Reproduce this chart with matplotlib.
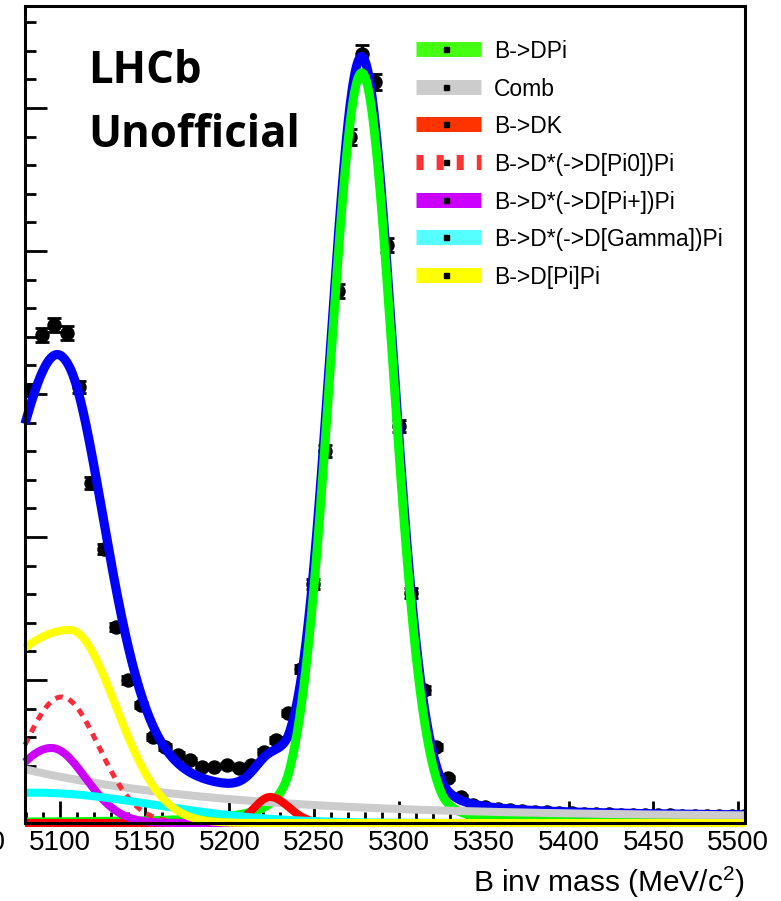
import numpy as np
import matplotlib
matplotlib.use("Agg")
import matplotlib.pyplot as plt
from matplotlib.lines import Line2D

plt.rcParams['font.family'] = ['Liberation Sans', 'DejaVu Sans']
plt.rcParams['mathtext.default'] = 'regular'

# data: events per bin, bins 5082.3 .. 5503.4 (59 bins)
first_bin = 5082.3
last_bin = 5503.4
counts = [4542, 5119, 5224, 5140, 4574, 3567, 2874, 2056, 1500, 1238,
          902, 797, 713, 661, 587, 587, 608, 577, 608, 745,
          871, 1154, 1615, 2507, 3902, 5581, 7196, 8067, 7773, 6063,
          4164, 2413, 1395, 797, 472, 273, 190, 165, 150, 138,
          128, 120, 113, 107, 102, 98, 94, 91, 88, 86,
          84, 82, 80, 78, 77, 76, 75, 74, 73]

# fit components (shape parameters)
# signal: double sided crystal ball  mean, sigma, aL, nL, aR, nR, height
dpi_par = [5278.0, 18.5, 2.3, 1.5, 2.5, 1.5, 7870]
# combinatorial: amp*exp(-slope*(m-5080)) + const
comb_par = [496, 0.0082, 65]
# bifurcated gaussians: mean, sigma_left, sigma_right, height
dk_par = [5224.0, 9.0, 11.0, 273]
dst_pi0_par = [5101.0, 22.0, 22.0, 1322]
dst_pip_par = [5095.0, 24.0, 20.0, 787]
dst_gam_par = [5085.0, 75.0, 70.0, 318]
dpipi_par = [5106.0, 60.0, 27.0, 2025]

labels = ["B->DPi", "Comb", "B->DK", "B->D*(->D[Pi0])Pi",
          "B->D*(->D[Pi+])Pi", "B->D*(->D[Gamma])Pi", "B->D[Pi]Pi"]
colors = ["#00ff00", "#cccccc", "#ff0000", "#ff2a3a",
          "#cc00ff", "#00ffff", "#ffff00"]
leg_colors = ["#44ff11", "#cccccc", "#ff3300", "#ff3333",
              "#cc00ff", "#55ffff", "#ffff00"]


def bgauss(m, mu, sl, sr, h):
    s = np.where(m < mu, sl, sr)
    return h * np.exp(-0.5 * ((m - mu) / s) ** 2)


def dcb(m, mu, s, aL, nL, aR, nR, h):
    t = (m - mu) / s
    out = np.exp(-0.5 * t ** 2)
    AL = (nL / aL) ** nL * np.exp(-0.5 * aL ** 2)
    BL = nL / aL - aL
    AR = (nR / aR) ** nR * np.exp(-0.5 * aR ** 2)
    BR = nR / aR - aR
    lo = t < -aL
    hi = t > aR
    out[lo] = AL * (BL - t[lo]) ** (-nL)
    out[hi] = AR * (BR + t[hi]) ** (-nR)
    return h * out


W, H = 781, 901
fig = plt.figure(figsize=(W / 100, H / 100), dpi=100)
ax = fig.add_axes([25 / W, 1 - 823 / H, 720 / W, 817 / H])

xlo, xhi = 5079.5, 5504.0
ylo, yhi = 0, 8570

centers = np.linspace(first_bin, last_bin, len(counts))
y = np.array(counts, dtype=float)
ax.errorbar(centers, y, yerr=np.sqrt(y), fmt='o', color='black', ms=9.4,
            elinewidth=2, capsize=5, capthick=2, zorder=1)

m = np.linspace(xlo, xhi, 1500)
sig = dcb(m, *dpi_par)
comb = comb_par[0] * np.exp(-comb_par[1] * (m - 5080)) + comb_par[2]
dk = bgauss(m, *dk_par)
pi0 = bgauss(m, *dst_pi0_par)
pip = bgauss(m, *dst_pip_par)
gam = bgauss(m, *dst_gam_par)
dpp = bgauss(m, *dpipi_par)
total = sig + comb + dk + pi0 + pip + gam + dpp

kw = dict(clip_on=False, solid_capstyle='butt', zorder=2)
ax.plot(m, total, color='#0000ff', lw=6.6, **kw)
comps = [sig, comb, dk, pi0, pip, gam, dpp]
widths = [6.4, 5.8, 5.8, 3.6, 5.8, 5.8, 5.8]
for i, c in enumerate(comps):
    if i == 3:
        ax.plot(m, c, color=colors[i], lw=widths[i], dashes=(1.5, 1.3),
                clip_on=False, zorder=2)
    else:
        ax.plot(m, c, color=colors[i], lw=widths[i], **kw)

ax.set_xlim(xlo, xhi)
ax.set_ylim(ylo, yhi)
ax.set_xticks(np.arange(5100, 5501, 50))
ax.set_xticks(np.arange(5080, 5501, 10), minor=True)
ax.set_yticks(np.arange(0, 8001, 1500))
ax.set_yticks(np.arange(0, 8570, 300), minor=True)
ax.set_yticklabels([])
ax.tick_params(axis='both', which='both', direction='in', width=2.0,
               top=False, right=False)
ax.tick_params(axis='both', which='major', length=16)
ax.tick_params(axis='both', which='minor', length=8)
ax.tick_params(axis='x', labelsize=20, pad=5)
for s in ax.spines.values():
    s.set_linewidth(2.2)
# label of the 5050 tick, which sits left of the frame and is mostly cut off
ax.text(5050, -0.0085, "5050", transform=ax.get_xaxis_transform(),
        ha='center', va='top', fontsize=20, clip_on=False)

fig.text(745 / W, 1 - 892 / H, "B inv mass (MeV/c$^{2}$)", ha='right',
         va='baseline', fontsize=21.5)

fig.text(88 / W, 1 - 83 / H, "LHCb", family='Open Sans', weight='bold',
         fontsize=31.5, va='baseline')
fig.text(88 / W, 1 - 147 / H, "Unofficial", family='Open Sans',
         weight='bold', fontsize=31.5, va='baseline')

# legend drawn by hand
for i, lab in enumerate(labels):
    yy = 1 - (49 + 37.67 * i) / H
    if i == 3:
        fig.add_artist(Line2D([416 / W, 481 / W], [yy, yy], lw=10.8,
                              color=leg_colors[i], dashes=(0.47, 0.87)))
    else:
        fig.add_artist(Line2D([416 / W, 481 / W], [yy, yy], lw=10.8,
                              color=leg_colors[i], solid_capstyle='butt'))
    fig.add_artist(Line2D([445.5 / W], [yy], marker='s', ms=3.6,
                          color='black', lw=0))
    fig.text(494 / W, yy, lab, fontsize=16.5, va='center_baseline')

fig.savefig("out.png", dpi=100)
